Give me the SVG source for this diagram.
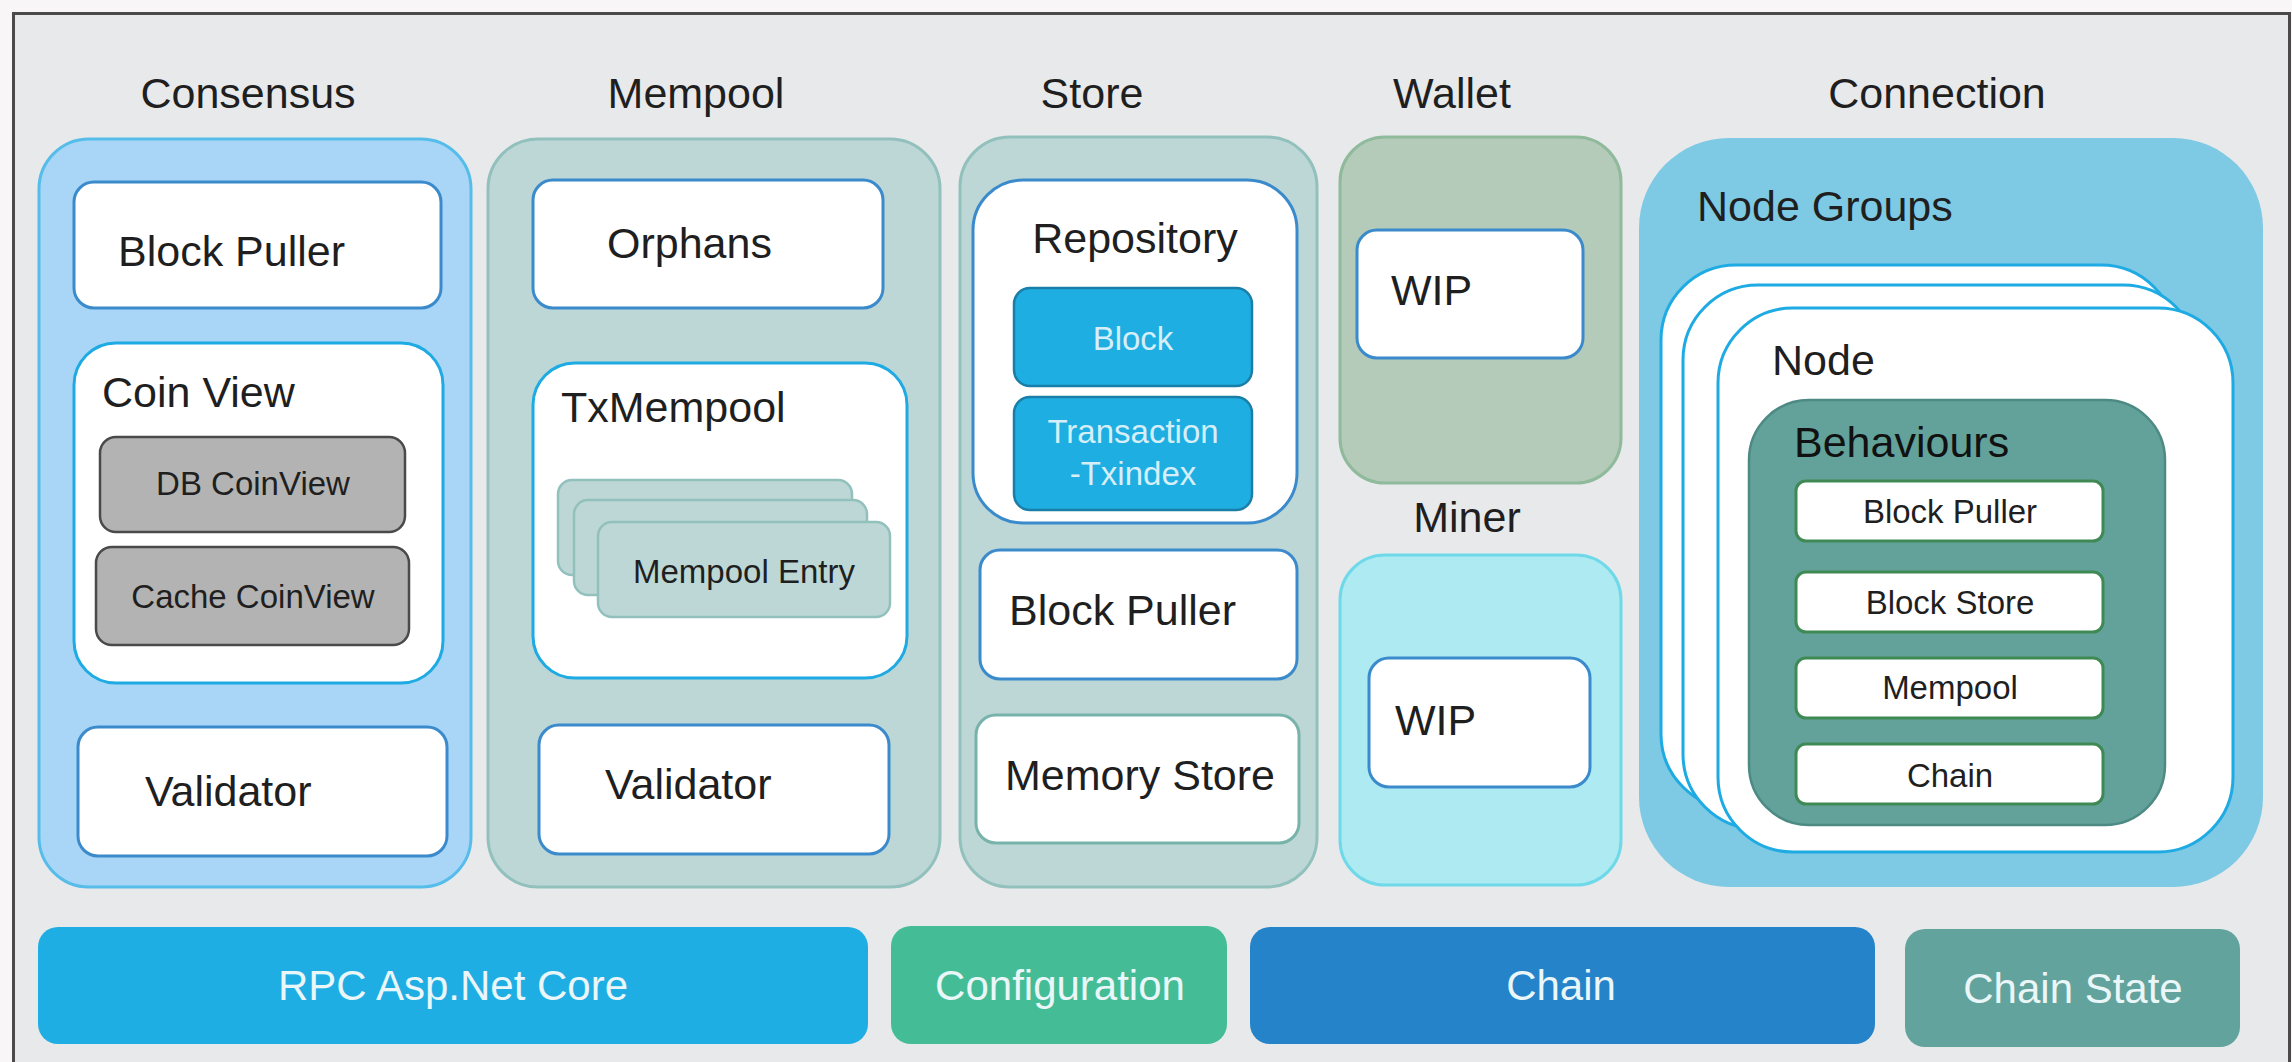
<svg xmlns="http://www.w3.org/2000/svg" width="2292" height="1062" viewBox="0 0 2292 1062">
<style>
text{font-family:"Liberation Sans",Arial,sans-serif;fill:#1f1f1f}
.t{font-size:43px;text-anchor:middle}
.l{font-size:43px}
.s{font-size:33px;text-anchor:middle}
.bar{font-size:42px;text-anchor:middle;fill:#eaf6f8}
.light{fill:#d6eef8}
.grp-blue{fill:#a9d6f6;stroke:#56bdea;stroke-width:3}
.grp-teal{fill:#bcd7d6;stroke:#92c1bd;stroke-width:3}
.box{fill:#fff;stroke:#3b8bcc;stroke-width:3}
.box2{fill:#fff;stroke:#1eaae2;stroke-width:3}
.gray{fill:#b3b3b3;stroke:#4a4a4a;stroke-width:2.5}
.entry{fill:#bcd7d6;stroke:#92c1bd;stroke-width:2.5}
.cyan{fill:#1eaee2;stroke:#1a7fa8;stroke-width:2.5}
.beh{fill:#fff;stroke:#3f8a54;stroke-width:3}
</style>
<rect x="0" y="0" width="2292" height="1062" fill="#f8f6f6"/>
<rect x="13.5" y="13.5" width="2276" height="1100" fill="#e8e9eb" stroke="#4a4a4a" stroke-width="3"/>

<g id="consensus">
<text class="t" x="248" y="108">Consensus</text>
<rect class="grp-blue" x="39" y="139" width="432" height="748" rx="50"/>
<g id="consensus-block-puller"><rect class="box" x="74" y="182" width="367" height="126" rx="20"/><text class="l" x="118" y="266">Block Puller</text></g>
<g id="coin-view"><rect class="box2" x="74" y="343" width="369" height="340" rx="42"/><text class="l" x="102" y="407">Coin View</text>
<g id="db-coinview"><rect class="gray" x="100" y="437" width="305" height="95" rx="16"/><text class="s" x="253" y="495">DB CoinView</text></g>
<g id="cache-coinview"><rect class="gray" x="96" y="547" width="313" height="98" rx="16"/><text class="s" x="253" y="608">Cache CoinView</text></g>
</g>
<g id="consensus-validator"><rect class="box" x="78" y="727" width="369" height="129" rx="20"/><text class="l" x="145" y="806">Validator</text></g>
</g>

<g id="mempool">
<text class="t" x="696" y="108">Mempool</text>
<rect class="grp-teal" x="488" y="139" width="452" height="748" rx="50"/>
<g id="orphans"><rect class="box" x="533" y="180" width="350" height="128" rx="20"/><text class="l" x="607" y="258">Orphans</text></g>
<g id="txmempool"><rect class="box2" x="533" y="363" width="374" height="315" rx="42"/><text class="l" x="561" y="422">TxMempool</text>
<g id="mempool-entry">
<rect class="entry" x="558" y="480" width="294" height="95" rx="14"/>
<rect class="entry" x="574" y="500" width="293" height="95" rx="14"/>
<rect class="entry" x="598" y="522" width="292" height="95" rx="14"/>
<text class="s" x="744" y="583">Mempool Entry</text>
</g>
</g>
<g id="mempool-validator"><rect class="box" x="539" y="725" width="350" height="129" rx="20"/><text class="l" x="605" y="799">Validator</text></g>
</g>

<g id="store">
<text class="t" x="1092" y="108">Store</text>
<rect class="grp-teal" x="960" y="137" width="357" height="750" rx="50"/>
<g id="repository"><rect class="box" x="973" y="180" width="324" height="343" rx="50"/><text class="t" x="1135" y="253">Repository</text>
<g id="repo-block"><rect class="cyan" x="1014" y="288" width="238" height="98" rx="16"/><text class="s light" x="1133" y="350">Block</text></g>
<g id="repo-transaction"><rect class="cyan" x="1014" y="397" width="238" height="113" rx="16"/><text class="s light" x="1133" y="443">Transaction</text><text class="s light" x="1133" y="485">-Txindex</text></g>
</g>
<g id="store-block-puller"><rect class="box" x="980" y="550" width="317" height="129" rx="20"/><text class="l" x="1009" y="625">Block Puller</text></g>
<g id="memory-store"><rect class="box" style="stroke:#78b3ab" x="976" y="715" width="323" height="128" rx="20"/><text class="l" x="1005" y="790">Memory Store</text></g>
</g>

<g id="wallet">
<text class="t" x="1452" y="108">Wallet</text>
<rect x="1340" y="137" width="281" height="346" rx="45" fill="#b5cbb9" stroke="#8fba9b" stroke-width="3"/>
<g id="wallet-wip"><rect class="box" x="1357" y="230" width="226" height="128" rx="20"/><text class="l" x="1391" y="305">WIP</text></g>
</g>

<g id="miner">
<text class="t" x="1467" y="532">Miner</text>
<rect x="1340" y="555" width="281" height="330" rx="45" fill="#aeeaf2" stroke="#6fd9e9" stroke-width="3"/>
<g id="miner-wip"><rect class="box" x="1369" y="658" width="221" height="129" rx="20"/><text class="l" x="1395" y="735">WIP</text></g>
</g>

<g id="connection">
<text class="t" x="1937" y="108">Connection</text>
<rect x="1639" y="138" width="624" height="749" rx="90" fill="#7ec9e4"/>
<text class="l" x="1697" y="221">Node Groups</text>
<g id="node-stack">
<rect class="box2" x="1661" y="265" width="515" height="544" rx="75"/>
<rect class="box2" x="1683" y="285" width="515" height="544" rx="75"/>
<rect class="box2" x="1718" y="308" width="515" height="544" rx="75"/>
<text class="l" x="1772" y="375">Node</text>
</g>
<g id="behaviours">
<rect x="1749" y="400" width="416" height="425" rx="60" fill="#62a29b" stroke="#4e8a84" stroke-width="2.5"/>
<text class="l" x="1794" y="457" style="fill:#111">Behaviours</text>
<g id="beh-block-puller"><rect class="beh" x="1796" y="481" width="307" height="60" rx="10"/><text class="s" x="1950" y="523">Block Puller</text></g>
<g id="beh-block-store"><rect class="beh" x="1796" y="572" width="307" height="60" rx="10"/><text class="s" x="1950" y="614">Block Store</text></g>
<g id="beh-mempool"><rect class="beh" x="1796" y="658" width="307" height="60" rx="10"/><text class="s" x="1950" y="699">Mempool</text></g>
<g id="beh-chain"><rect class="beh" x="1796" y="744" width="307" height="60" rx="10"/><text class="s" x="1950" y="787">Chain</text></g>
</g>
</g>

<g id="rpc"><rect x="38" y="927" width="830" height="117" rx="20" fill="#1eaee4"/><text class="bar" x="453" y="1000">RPC Asp.Net Core</text></g>
<g id="configuration"><rect x="891" y="926" width="336" height="118" rx="20" fill="#44bd96"/><text class="bar" x="1060" y="1000">Configuration</text></g>
<g id="chain"><rect x="1250" y="927" width="625" height="117" rx="20" fill="#2583c9"/><text class="bar" x="1561" y="1000">Chain</text></g>
<g id="chain-state"><rect x="1905" y="929" width="335" height="118" rx="20" fill="#62a49d"/><text class="bar" x="2073" y="1003">Chain State</text></g>

<g id="connectors"></g>
</svg>
